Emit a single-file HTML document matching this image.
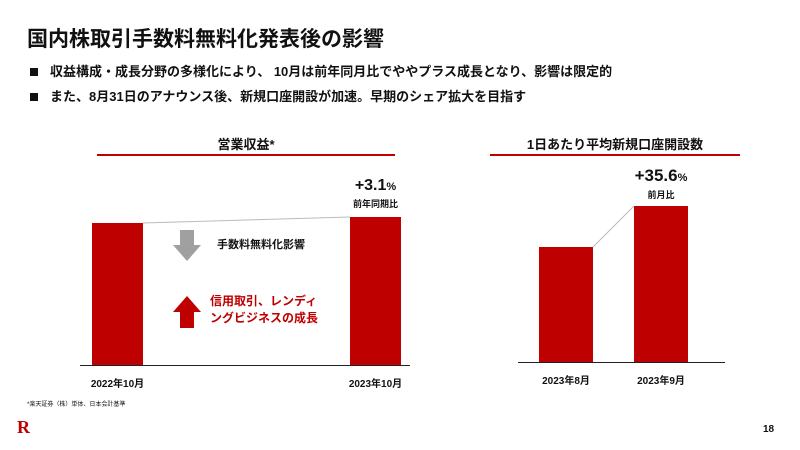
<!DOCTYPE html>
<html><head><meta charset="utf-8"><style>
body{margin:0;width:800px;height:450px;background:#fff;position:relative;overflow:hidden;font-family:"Liberation Sans","Noto Sans CJK JP",sans-serif;color:#111}
.a{position:absolute;white-space:nowrap}
.b{font-weight:bold}
.bar{position:absolute;background:#bf0000}
</style></head><body>
<div class="a b" style="left:27px;top:23px;font-size:21px;">国内株取引手数料無料化発表後の影響</div>
<div class="a b" style="left:30px;top:61px;font-size:13px;"><span style="display:inline-block;width:8px;height:8px;background:#111;margin-right:12px;"></span>収益構成・成長分野の多様化により、 10月は前年同月比でややプラス成長となり、影響は限定的</div>
<div class="a b" style="left:30px;top:86px;font-size:13px;"><span style="display:inline-block;width:8px;height:8px;background:#111;margin-right:12px;"></span>また、8月31日のアナウンス後、新規口座開設が加速。早期のシェア拡大を目指す</div>

<div class="a b" style="left:97px;width:298px;text-align:center;top:134px;font-size:13px;">営業収益*</div>
<div class="a" style="left:97px;width:298px;top:154px;height:2px;background:#bf0000"></div>
<svg class="a" style="left:0;top:0" width="800" height="450"><line x1="143" y1="223" x2="350" y2="217" stroke="#bbb" stroke-width="1"/><line x1="593" y1="247" x2="634" y2="206" stroke="#bbb" stroke-width="1"/>
<polygon points="180,230 194,230 194,245 201,245 187,261 173,245 180,245" fill="#a0a0a0"/>
<polygon points="180,328 194,328 194,312 201,312 187,296 173,312 180,312" fill="#bf0000"/></svg>
<div class="bar" style="left:92px;top:223px;width:51px;height:142px"></div>
<div class="bar" style="left:350px;top:217px;width:51px;height:148px"></div>
<div class="a" style="left:80px;top:365px;width:330px;height:1px;background:#222"></div>
<div class="a b" style="left:350px;width:51px;text-align:center;top:177px;font-size:16px;">+3.1<span style="font-size:11px">%</span></div>
<div class="a b" style="left:340px;width:71px;text-align:center;top:197px;font-size:9px;">前年同期比</div>
<div class="a b" style="left:217px;top:236px;font-size:11px;">手数料無料化影響</div>
<div class="a b" style="left:210px;top:293px;font-size:12px;color:#bf0000;line-height:17px;">信用取引、レンディ<br>ングビジネスの成長</div>
<div class="a b" style="left:82px;width:71px;text-align:center;top:375px;font-size:10px;">2022年10月</div>
<div class="a b" style="left:340px;width:71px;text-align:center;top:375px;font-size:10px;">2023年10月</div>

<div class="a b" style="left:490px;width:250px;text-align:center;top:134px;font-size:13px;">1日あたり平均新規口座開設数</div>
<div class="a" style="left:490px;width:250px;top:154px;height:2px;background:#bf0000"></div>
<div class="bar" style="left:539px;top:247px;width:54px;height:115px"></div>
<div class="bar" style="left:634px;top:206px;width:54px;height:156px"></div>
<div class="a" style="left:518px;top:362px;width:207px;height:1px;background:#222"></div>
<div class="a b" style="left:611px;width:100px;text-align:center;top:166px;font-size:17px;">+35.6<span style="font-size:11px">%</span></div>
<div class="a b" style="left:611px;width:100px;text-align:center;top:188px;font-size:9px;">前月比</div>
<div class="a b" style="left:526px;width:80px;text-align:center;top:372px;font-size:10px;">2023年8月</div>
<div class="a b" style="left:621px;width:80px;text-align:center;top:372px;font-size:10px;">2023年9月</div>

<div class="a" style="left:27px;top:399px;font-size:6px;">*楽天証券（株）単体、日本会計基準</div>
<div class="a b" style="left:17px;top:417px;font-size:18px;color:#bf0000;font-family:'Liberation Serif',serif;">R</div>
<div class="a b" style="left:763px;top:424px;font-size:10px;">18</div>
</body></html>
